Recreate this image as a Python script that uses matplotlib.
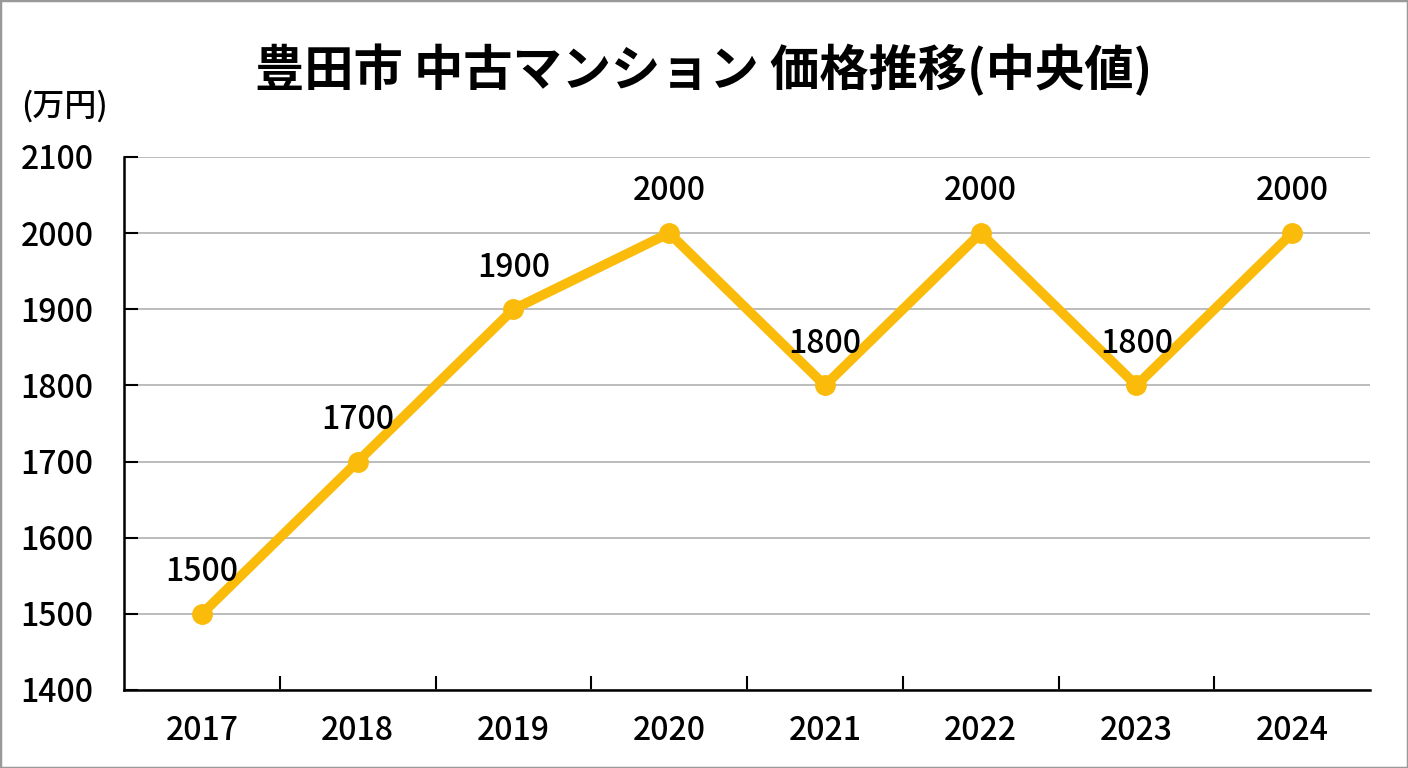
import matplotlib.pyplot as plt
from matplotlib.patches import Rectangle
from matplotlib.ticker import FixedLocator, MultipleLocator

plt.rcParams["font.family"] = ["Noto Sans CJK JP", "DejaVu Sans"]
plt.rcParams["font.weight"] = "medium"

years = ["2017", "2018", "2019", "2020", "2021", "2022", "2023", "2024"]
prices = [1500, 1700, 1900, 2000, 1800, 2000, 1800, 2000]

line_col = "#FABB0A"

fig = plt.figure(figsize=(14.08, 7.68), dpi=100)
ax = fig.add_axes((0.0881, 0.1016, 0.885, 0.6940))

x = list(range(len(years)))
ax.plot(x, prices, color=line_col, lw=7, marker="o", ms=14, zorder=3,
        solid_capstyle="round")

for xi, v in zip(x, prices):
    ax.annotate(f"{v}", xy=(xi, v), xytext=(0, 30), textcoords="offset points",
                ha="center", va="center", fontsize=23, zorder=4)

ax.set_xlim(-0.5, len(years) - 0.5)
ax.set_ylim(1400, 2100)
ax.yaxis.set_major_locator(MultipleLocator(100))
ax.grid(axis="y", color="#b0b0b0", lw=1.2)
ax.set_axisbelow(True)

ax.set_xticks(x)
ax.set_xticklabels(years)
ax.xaxis.set_minor_locator(FixedLocator([i + 0.5 for i in x[:-1]]))
ax.tick_params(axis="x", which="major", length=0, pad=18, labelsize=23)
ax.tick_params(axis="x", which="minor", direction="in", length=10, width=1.5)
ax.tick_params(axis="y", direction="in", length=10, width=1.5, pad=22,
               labelsize=23)

for side in ["top", "right"]:
    ax.spines[side].set_visible(False)
for side in ["left", "bottom"]:
    ax.spines[side].set_linewidth(1.8)

fig.text(0.5, 0.909, "豊田市 中古マンション 価格推移(中央値)", ha="center",
         va="center", fontsize=35.5, fontweight="bold")
fig.text(0.015, 0.862, "(万円)", ha="left", va="center", fontsize=23)

fig.patches.append(Rectangle((0, 0), 1, 1, transform=fig.transFigure,
                             fill=False, ec="#999999", lw=2.5))

fig.savefig("out.png", dpi=100)
